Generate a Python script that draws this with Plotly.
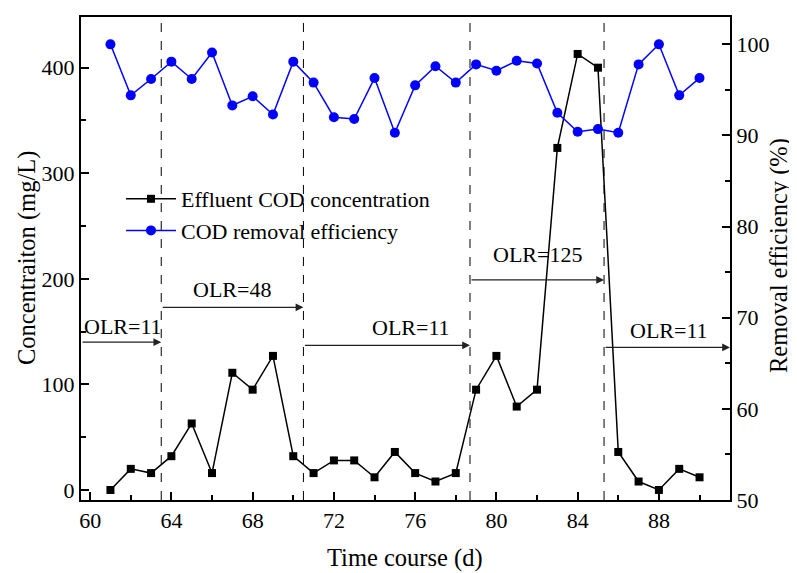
import plotly.graph_objects as go

days = list(range(61, 91))
effluent_cod = [0, 20, 16, 32, 63, 16, 111, 95, 127, 32,
                16, 28, 28, 12, 36, 16, 8, 16, 95, 127,
                79, 95, 324, 413, 400, 36, 8, 0, 20, 12]
removal_eff = [100, 94.4, 96.2, 98.1, 96.2, 99.1, 93.3, 94.3, 92.3, 98.1,
               95.8, 92.0, 91.8, 96.3, 90.3, 95.5, 97.6, 95.8, 97.8, 97.1,
               98.2, 97.9, 92.5, 90.4, 90.7, 90.3, 97.8, 100, 94.4, 96.3]

phase_bounds = [63.5, 70.5, 78.7, 85.3]
x_range = [59.55, 91.5]
olr_labels = ["OLR=11", "OLR=48", "OLR=11", "OLR=125", "OLR=11"]
arrow_start = [59.55, 63.5, 70.5, 78.7, 85.3]
arrow_end = [63.5, 70.5, 78.7, 85.3, 91.5]
arrow_y = [140, 173, 137, 199, 135]
label_x = [61.6, 67.0, 75.8, 82.0, 88.5]
label_y = [155, 190, 154, 223, 151]

FONT = "Liberation Serif"

# the page body has an 8px margin, so the figure starts at (8, 8)
OFF = 8
PL, PT, PW, PH = 81, 17, 649, 483  # plot area in page pixels

fig = go.Figure()
fig.add_trace(go.Scatter(
    x=days, y=effluent_cod, name="Effluent COD concentration",
    mode="lines+markers", line=dict(color="black", width=1.5),
    marker=dict(symbol="square", size=8, color="black"), yaxis="y"))
fig.add_trace(go.Scatter(
    x=days, y=removal_eff, name="COD removal efficiency",
    mode="lines+markers", line=dict(color="#0000FF", width=1.5),
    marker=dict(symbol="circle", size=10, color="#0000FF"), yaxis="y2"))

shapes = []
for xb in phase_bounds:
    shapes.append(dict(type="line", xref="x", yref="paper", x0=xb, x1=xb, y0=0, y1=1,
                       line=dict(color="black", width=1, dash="dash")))

annotations = []
for xs, xe, ya, lx, ly, txt in zip(arrow_start, arrow_end, arrow_y, label_x, label_y, olr_labels):
    annotations.append(dict(x=xe, y=ya, ax=xs, ay=ya, xref="x", yref="y", axref="x", ayref="y",
                            text="", showarrow=True, arrowhead=2, arrowsize=1.3, arrowwidth=1.2,
                            arrowcolor="#222222"))
    annotations.append(dict(x=lx, y=ly, xref="x", yref="y", text=txt, showarrow=False,
                            font=dict(family=FONT, size=22, color="black")))


def px(xp):
    return (xp - PL) / PW


def py(yp):
    return (PT + PH - yp) / PH


annotations.append(dict(text="Concentraiton (mg/L)", xref="paper", yref="paper",
                        x=px(27), y=py(258), textangle=-90, showarrow=False,
                        xanchor="center", yanchor="middle",
                        font=dict(family=FONT, size=24.5, color="black")))
annotations.append(dict(text="Removal efficiency (%)", xref="paper", yref="paper",
                        x=px(779), y=py(256), textangle=-90, showarrow=False,
                        xanchor="center", yanchor="middle",
                        font=dict(family=FONT, size=24.5, color="black")))
annotations.append(dict(text="Time course (d)", xref="paper", yref="paper",
                        x=px(405), y=py(558), showarrow=False,
                        xanchor="center", yanchor="middle",
                        font=dict(family=FONT, size=24.5, color="black")))

W, H = 797 - OFF, 573 - OFF
fig.update_layout(
    width=W, height=H,
    margin=dict(l=PL - OFF, r=W - (PL - OFF) - PW, t=PT - OFF, b=H - (PT - OFF) - PH, autoexpand=False),
    paper_bgcolor="white", plot_bgcolor="white",
    font=dict(family=FONT, size=22, color="black"),
    showlegend=True,
    legend=dict(x=px(121), y=py(178), xanchor="left", yanchor="top",
                bgcolor="rgba(0,0,0,0)", font=dict(family=FONT, size=22),
                tracegroupgap=0, itemwidth=50),
    xaxis=dict(range=x_range, tickvals=[60, 64, 68, 72, 76, 80, 84, 88],
               ticks="inside", ticklen=8, tickwidth=1.5, tickcolor="black",
               minor=dict(dtick=2, tick0=60, ticks="inside", ticklen=5, tickwidth=1.5, tickcolor="black"),
               showline=True, linecolor="black", linewidth=2, mirror=True,
               showgrid=False, zeroline=False, automargin=False,
               tickfont=dict(family=FONT, size=22)),
    yaxis=dict(range=[-9.5, 448], tickvals=[0, 100, 200, 300, 400],
               ticks="inside", ticklen=8, tickwidth=1.5, tickcolor="black",
               minor=dict(dtick=50, tick0=0, ticks="inside", ticklen=5, tickwidth=1.5, tickcolor="black"),
               showline=True, linecolor="black", linewidth=2,
               showgrid=False, zeroline=False, automargin=False,
               tickfont=dict(family=FONT, size=22)),
    yaxis2=dict(range=[50, 103], overlaying="y", side="right",
                tickvals=[50, 60, 70, 80, 90, 100],
                ticks="inside", ticklen=8, tickwidth=1.5, tickcolor="black",
                minor=dict(dtick=5, tick0=50, ticks="inside", ticklen=5, tickwidth=1.5, tickcolor="black"),
                showline=True, linecolor="black", linewidth=2,
                showgrid=False, zeroline=False, automargin=False,
                tickfont=dict(family=FONT, size=22)),
    shapes=shapes,
    annotations=annotations,
)

fig.write_html("out.html")
